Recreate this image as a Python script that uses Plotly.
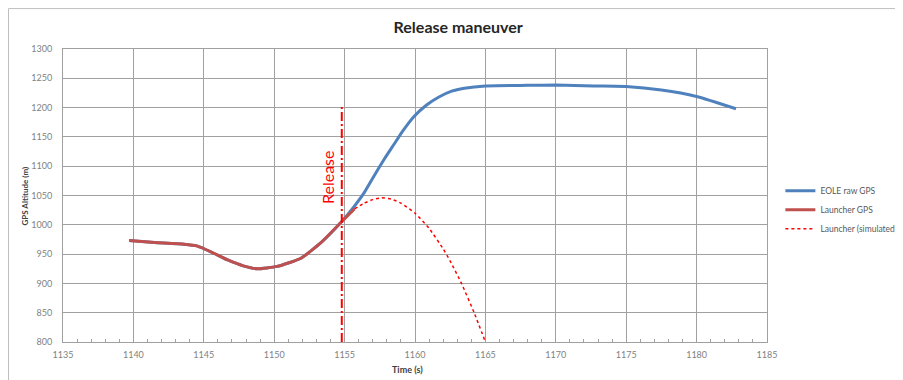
import plotly.graph_objects as go

# ---- data ----
eole_t = [1139.7, 1141.5, 1143.6, 1144.5, 1145.5, 1146.7, 1147.8, 1148.8, 1150.2, 1151.9, 1153.3, 1154.7,
          1155.67, 1156.37, 1157.08, 1157.79, 1158.5, 1159.1, 1159.9, 1160.8, 1161.7, 1162.6,
          1163.5, 1165.0, 1168.0, 1170.0, 1172.7, 1175.0, 1177.5, 1180.0, 1182.8]
eole_alt = [973, 970, 967, 964, 954, 940, 930, 925, 929, 943, 969, 1003,
            1031, 1054, 1083, 1111, 1137, 1159, 1184, 1204, 1218, 1228,
            1233, 1237, 1238, 1238.5, 1237, 1236, 1230, 1219, 1198]

launcher_t = [1139.7, 1141.5, 1143.6, 1144.5, 1145.5, 1146.7, 1147.8, 1148.8, 1150.2, 1151.9, 1153.3,
              1154.7, 1155.7]
launcher_alt = [973, 970, 967, 964, 954, 940, 930, 925, 929, 943, 969, 1003, 1027]

sim_t = [1155.7, 1156.4, 1157.0, 1157.6, 1158.3, 1159.0, 1160.0, 1161.0, 1162.0, 1162.5,
         1163.3, 1164.2, 1165.0]
sim_alt = [1027, 1037, 1043, 1046, 1044, 1037, 1020, 994, 959, 938, 900, 850, 800]

release_t = 1154.8
release_range = [800, 1202]

x_ticks = [1135, 1140, 1145, 1150, 1155, 1160, 1165, 1170, 1175, 1180, 1185]
y_ticks = [800, 850, 900, 950, 1000, 1050, 1100, 1150, 1200, 1250, 1300]

FONT = "Lato"
GRID = "#a0a0a0"

fig = go.Figure()
fig.add_trace(go.Scatter(x=eole_t, y=eole_alt, mode="lines", name="EOLE raw GPS",
                         line=dict(color="#4f81bd", width=3, shape="spline", smoothing=0.5)))
fig.add_trace(go.Scatter(x=launcher_t, y=launcher_alt, mode="lines", name="Launcher GPS",
                         line=dict(color="#c0504d", width=3, shape="spline", smoothing=0.5)))
fig.add_trace(go.Scatter(x=sim_t, y=sim_alt, mode="lines", name="Launcher (simulated)",
                         line=dict(color="#ff0000", width=1.5, dash="dot", shape="spline", smoothing=0.5)))
fig.add_trace(go.Scatter(x=[release_t, release_t], y=release_range, mode="lines", showlegend=False,
                         line=dict(color="#ff0000", width=2, dash="9px,3px,2px,3px")))

fig.add_annotation(x=1153.8, y=1081, text="Release", textangle=-90, showarrow=False,
                   font=dict(family=FONT, size=16, color="#ff0000"))

# axis titles
fig.add_annotation(xref="paper", yref="paper", x=0.49, y=-0.095, yanchor="middle", xanchor="center",
                   text="<b>Time (s)</b>", showarrow=False,
                   font=dict(family=FONT, size=9, color="#404040"))
fig.add_annotation(xref="paper", yref="paper", x=-0.054, y=0.5, textangle=-90, showarrow=False,
                   xanchor="center", yanchor="middle", text="<b>GPS Altitude (m)</b>",
                   font=dict(family=FONT, size=8, color="#404040"))

# outer chart frame (top and left edges visible)
fig.add_shape(type="line", xref="paper", yref="paper", x0=-0.0774, x1=1.3, y0=1.138, y1=1.138,
              line=dict(color="#bfbfbf", width=1))
fig.add_shape(type="line", xref="paper", yref="paper", x0=-0.0774, x1=-0.0774, y0=-0.2, y1=1.138,
              line=dict(color="#bfbfbf", width=1))

fig.update_layout(
    width=895, height=372,
    margin=dict(l=55, r=136, t=41, b=38, autoexpand=False),
    paper_bgcolor="white", plot_bgcolor="white",
    title=dict(text="<b>Release maneuver</b>", x=0.503, xanchor="center", y=0.949, yanchor="middle",
               yref="container", font=dict(family=FONT, size=16, color="#262626")),
    font=dict(family=FONT, color="#595959"),
    legend=dict(x=1.019, y=0.566, xanchor="left", yanchor="top", bgcolor="rgba(0,0,0,0)",
                font=dict(family=FONT, size=8.5, color="#595959"), tracegroupgap=0,
                itemwidth=30),
    showlegend=True,
)
fig.update_xaxes(range=[1135, 1185], tickvals=x_ticks, showgrid=True, gridcolor=GRID, gridwidth=1,
                 showline=True, linecolor=GRID, mirror=True, zeroline=False, automargin=False,
                 ticks="inside", ticklen=4, tickcolor=GRID, ticklabelstandoff=4,
                 minor=dict(dtick=1, ticks="inside", ticklen=3, tickcolor=GRID, showgrid=False),
                 tickfont=dict(family=FONT, size=9, color="#7f7f7f"))
fig.update_yaxes(range=[800, 1300], tickvals=y_ticks, showgrid=True, gridcolor=GRID, gridwidth=1,
                 showline=True, linecolor=GRID, mirror=True, zeroline=False, ticks="",
                 automargin=False, ticklabelstandoff=8,
                 tickfont=dict(family=FONT, size=9, color="#7f7f7f"))

fig.write_html("out.html")
